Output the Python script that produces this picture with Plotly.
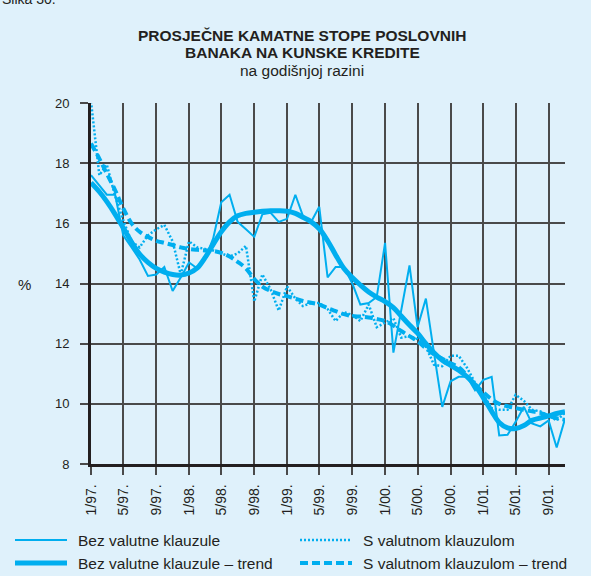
import pandas as pd
import plotly.graph_objects as go

# Monthly observations, 1/97 .. 11/01
months = pd.date_range("1997-01-01", "2001-11-01", freq="MS")

tick_labels = ["1/97.", "5/97.", "9/97.", "1/98.", "5/98.", "9/98.", "1/99.", "5/99.",
               "9/99.", "1/00.", "5/00.", "9/00.", "1/01.", "5/01.", "9/01."]

bez_klauzule = [17.6, 17.25, 16.95, 16.95, 15.6, 15.2, 14.8, 14.25, 14.3, 14.55,
                13.75, 14.2, 14.7, 14.5, 14.8, 15.5, 16.7, 16.95, 16.05, 15.8,
                15.55, 16.3, 16.35, 16.05, 16.15, 16.95, 16.25, 16.05, 16.55, 14.2,
                14.55, 14.55, 14.0, 13.3, 13.35, 13.55, 15.35, 11.7, 13.1, 14.6,
                12.55, 13.5, 11.7, 9.9, 10.75, 10.9, 10.9, 10.45, 10.8, 10.9,
                8.95, 8.97, 9.4, 9.9, 9.35, 9.25, 9.45, 8.55, 9.5]

bez_klauzule_trend = [17.35, 17.05, 16.72, 16.3, 15.85, 15.38, 14.98, 14.7, 14.5, 14.38,
                      14.3, 14.28, 14.35, 14.52, 14.85, 15.3, 15.72, 16.05, 16.25, 16.33,
                      16.37, 16.4, 16.42, 16.42, 16.4, 16.33, 16.2, 16.05, 15.82, 15.42,
                      14.95, 14.5, 14.2, 13.95, 13.72, 13.55, 13.4, 13.2, 12.92, 12.62,
                      12.35, 12.0, 11.7, 11.45, 11.28, 11.12, 10.9, 10.62, 10.2, 9.75,
                      9.38, 9.2, 9.18, 9.28, 9.45, 9.53, 9.6, 9.68, 9.74]

s_klauzulom = [20.05, 17.6, 17.95, 16.9, 16.1, 15.4, 15.2, 15.6, 15.8, 15.95,
               15.4, 14.3, 15.4, 15.2, 15.15, 15.1, 15.0, 14.9, 15.0, 15.25,
               13.4, 14.3, 13.8, 13.1, 13.9, 13.5, 13.25, 13.35, 13.35, 13.15,
               12.75, 13.05, 12.95, 12.75, 13.3, 12.55, 12.7, 12.85, 12.2, 12.25,
               12.15, 11.9, 11.3, 11.25, 11.6, 11.6, 11.2, 10.7, 10.3, 9.85,
               9.8, 9.8, 10.3, 10.1, 9.8, 9.75, 9.6, 9.45, 9.7]

s_klauzulom_trend = [18.65, 18.15, 17.65, 17.1, 16.5, 16.0, 15.72, 15.55, 15.42, 15.35,
                     15.28, 15.2, 15.15, 15.12, 15.1, 15.08, 15.02, 14.9, 14.72, 14.5,
                     14.15, 13.9, 13.75, 13.65, 13.58, 13.5, 13.42, 13.36, 13.3, 13.18,
                     13.08, 12.98, 12.92, 12.9, 12.87, 12.82, 12.75, 12.6, 12.42, 12.25,
                     12.08, 11.85, 11.65, 11.5, 11.35, 11.22, 10.95, 10.65, 10.38, 10.15,
                     10.0, 9.92, 9.86, 9.8, 9.75, 9.7, 9.6, 9.52, 9.47]

CYAN = "#00AEEF"
BG = "#DFF1FB"
GRID = "#4a4a4a"
INK = "#231f20"
FONT = "Liberation Sans, Arial, sans-serif"

W, H = 591, 576
L, R, T, B = 91, 26, 103, 112
PW, PH = W - L - R, H - T - B


def px_x(px):
    # page pixel -> paper x
    return (px - L) / PW


def px_y(py):
    # page pixel -> paper y
    return (H - B - py) / PH


series = [
    ("Bez valutne klauzule", bez_klauzule, {"color": CYAN, "width": 2}),
    ("S valutnom klauzulom", s_klauzulom, {"color": CYAN, "width": 2.5, "dash": "2px,2px"}),
    ("Bez valutne klauzule – trend", bez_klauzule_trend, {"color": CYAN, "width": 5, "shape": "spline"}),
    ("S valutnom klauzulom – trend", s_klauzulom_trend,
     {"color": CYAN, "width": 4, "dash": "8px,4px", "shape": "spline"}),
]

fig = go.Figure()
for name, values, line in series:
    fig.add_trace(go.Scatter(x=months, y=values, mode="lines", name=name, line=line))

# hand-made two-column legend under the chart
legend_slots = [(15, 540), (300, 540), (15, 563), (300, 563)]
shapes = []
annotations = []
for (name, _, line), (lx, ly) in zip(series, legend_slots):
    sample = {k: v for k, v in line.items() if k != "shape"}
    shapes.append({"type": "line", "xref": "paper", "yref": "paper",
                   "x0": px_x(lx), "x1": px_x(lx + 52), "y0": px_y(ly), "y1": px_y(ly),
                   "line": sample})
    annotations.append({"text": name, "xref": "paper", "yref": "paper",
                        "x": px_x(lx + 61), "y": px_y(ly), "xanchor": "left", "yanchor": "middle",
                        "showarrow": False, "font": {"size": 15.5}})

title_lines = [
    ("<b>PROSJEČNE KAMATNE STOPE POSLOVNIH</b>", 35),
    ("<b>BANAKA NA KUNSKE KREDITE</b>", 52.5),
    ("na godišnjoj razini", 70),
]
for text, ty in title_lines:
    annotations.append({"text": text, "xref": "paper", "yref": "paper",
                        "x": px_x(302), "y": px_y(ty), "xanchor": "center", "yanchor": "middle",
                        "showarrow": False, "font": {"size": 15.5}})

annotations.append({"text": "%", "xref": "paper", "yref": "paper", "x": px_x(24), "y": px_y(284),
                    "xanchor": "center", "yanchor": "middle", "showarrow": False, "font": {"size": 15}})
annotations.append({"text": "Slika 30.", "xref": "paper", "yref": "paper", "x": px_x(0), "y": px_y(-1),
                    "xanchor": "left", "yanchor": "middle", "showarrow": False, "font": {"size": 14}})

fig.update_layout(
    width=W,
    height=H,
    margin={"l": L, "r": R, "t": T, "b": B},
    paper_bgcolor=BG,
    plot_bgcolor=BG,
    font={"family": FONT, "color": INK, "size": 13},
    showlegend=False,
    shapes=shapes,
    annotations=annotations,
)

fig.update_xaxes(
    range=[months[0], months[-1]],
    tickvals=months[::4],
    ticktext=tick_labels,
    tickangle=-90,
    ticks="outside",
    ticklen=8,
    tickwidth=1.5,
    tickcolor=GRID,
    tickfont={"size": 14},
    ticklabelstandoff=4,
    showgrid=True,
    gridcolor=GRID,
    gridwidth=1.5,
    showline=True,
    linecolor=INK,
    linewidth=2.5,
    zeroline=False,
    automargin=False,
)
fig.update_yaxes(
    range=[8, 20],
    dtick=2,
    ticks="outside",
    ticklen=8,
    tickwidth=1.5,
    tickcolor=GRID,
    tickfont={"size": 13},
    ticklabelstandoff=8,
    showgrid=True,
    gridcolor=GRID,
    gridwidth=1.5,
    showline=True,
    linecolor=INK,
    linewidth=3,
    zeroline=False,
    automargin=False,
)

# the page body has a default 8px margin; drop it so the figure fills the window
fig.write_html(
    "out.html",
    config={"displayModeBar": False},
    post_script="document.body.style.margin = '0';",
)
